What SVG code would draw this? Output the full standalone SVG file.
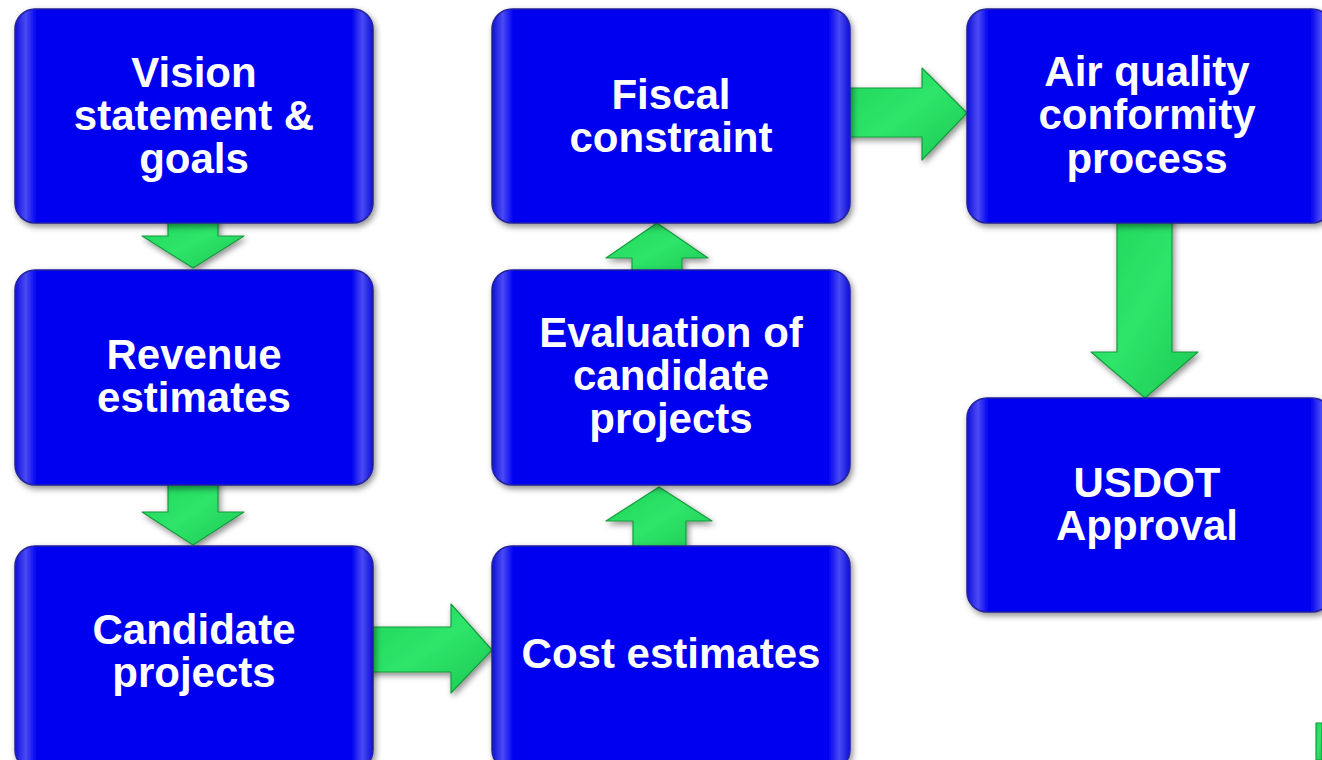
<svg xmlns="http://www.w3.org/2000/svg" width="1322" height="760" viewBox="0 0 1322 760">
<defs>
<filter id="sh" x="-10%" y="-10%" width="125%" height="125%">
<feGaussianBlur in="SourceAlpha" stdDeviation="3"/>
<feOffset dx="2" dy="3" result="b"/>
<feComponentTransfer><feFuncA type="linear" slope="0.45"/></feComponentTransfer>
<feMerge><feMergeNode/><feMergeNode in="SourceGraphic"/></feMerge>
</filter>
<linearGradient id="bx" x1="0" y1="0" x2="1" y2="0">
<stop offset="0" stop-color="#1010d8"/>
<stop offset="0.03" stop-color="#4a4af5"/>
<stop offset="0.06" stop-color="#0000f0"/>
<stop offset="0.94" stop-color="#0000f0"/>
<stop offset="0.97" stop-color="#4a4af5"/>
<stop offset="1" stop-color="#1010d8"/>
</linearGradient>
<linearGradient id="gr" x1="0" y1="0" x2="1" y2="1">
<stop offset="0" stop-color="#1fd45a"/>
<stop offset="0.5" stop-color="#2ee56a"/>
<stop offset="1" stop-color="#1cc852"/>
</linearGradient>
<style>
.box{fill:url(#bx);stroke:#22229a;stroke-width:1.5;filter:url(#sh)}
.arr{fill:url(#gr);stroke:#189a3e;stroke-width:1.2;stroke-linejoin:round;filter:url(#sh)}
.t{font-family:"Liberation Sans",Arial,sans-serif;font-weight:bold;font-size:42px;fill:#ffffff;text-anchor:middle}
</style>
</defs>
<rect width="1322" height="760" fill="#ffffff"/>
<g id="connectors">
<polygon class="arr" points="168,215 218,215 218,236 244,236 193,268 142,236 168,236"/>
<polygon class="arr" points="168,478 218,478 218,512 244,512 193,545 142,512 168,512"/>
<polygon class="arr" points="366,627 451,627 451,604 492,650 451,693 451,672 366,672"/>
<polygon class="arr" points="633,553 633,521 606,521 659,487 712,521 686,521 686,553"/>
<polygon class="arr" points="632,277 632,258 606,258 657,223 708,258 682,258 682,277"/>
<polygon class="arr" points="843,88 922,88 922,68 967,113 922,160 922,137 843,137"/>
<polygon class="arr" points="1117,215 1172,215 1172,352 1198,352 1145,398 1091,352 1117,352"/>
<polygon class="arr" points="1316,723 1322,723 1322,760 1316,760"/>
</g>
<g id="n1"><rect class="box" x="15" y="9" width="358" height="214" rx="20"/>
<text class="t" x="194" y="87">Vision</text><text class="t" x="194" y="130">statement &amp;</text><text class="t" x="194" y="173">goals</text></g>
<g id="n2"><rect class="box" x="15" y="270" width="358" height="215" rx="20"/>
<text class="t" x="194" y="369">Revenue</text><text class="t" x="194" y="412">estimates</text></g>
<g id="n3"><rect class="box" x="15" y="546" width="358" height="224" rx="20"/>
<text class="t" x="194" y="644">Candidate</text><text class="t" x="194" y="687">projects</text></g>
<g id="n4"><rect class="box" x="492" y="546" width="358" height="224" rx="20"/>
<text class="t" x="671" y="668">Cost estimates</text></g>
<g id="n5"><rect class="box" x="492" y="270" width="358" height="215" rx="20"/>
<text class="t" x="671" y="347">Evaluation of</text><text class="t" x="671" y="390">candidate</text><text class="t" x="671" y="433">projects</text></g>
<g id="n6"><rect class="box" x="492" y="9" width="358" height="214" rx="20"/>
<text class="t" x="671" y="109">Fiscal</text><text class="t" x="671" y="152">constraint</text></g>
<g id="n7"><rect class="box" x="967" y="9" width="365" height="214" rx="20"/>
<text class="t" x="1147" y="86">Air quality</text><text class="t" x="1147" y="129">conformity</text><text class="t" x="1147" y="173">process</text></g>
<g id="n8"><rect class="box" x="967" y="398" width="365" height="214" rx="20"/>
<text class="t" x="1147" y="497">USDOT</text><text class="t" x="1147" y="540">Approval</text></g>
</svg>
